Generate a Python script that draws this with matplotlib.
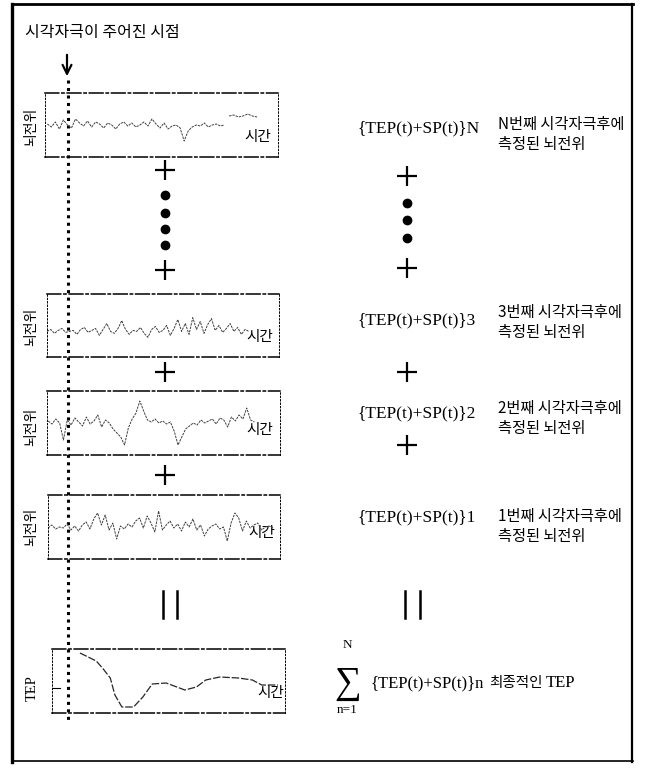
import numpy as np
import matplotlib.pyplot as plt

# 한글 / 수식 글꼴
kor = ['Noto Sans CJK KR', 'DejaVu Sans']
serif = ['Liberation Serif', 'DejaVu Serif']

# 각 자극 후 측정된 뇌전위 (상자 중심 기준 진폭, 임의 단위)
trace_N = [1, -2, 3, -4, 5, 0, -3, 6, 2, -1, 4, -2, 3, 1, -3, 2, 0, -4, 1, 3,
           -1, 2, -2, 0, 3, -1, 6, 1, -3, 2, -4, -1, 0, -3, -16, -6, -2, 0, -1, 2,
           -2, 0, 1, -1, 0]
trace_N_tail = [9, 10, 8, 9, 11, 9, 8]
trace_3 = [-6, -4, -8, -5, -3, -7, -6, -5, -9, -4, -2, -7, -5, -3, -10, -4, 2, -6, -8, -3,
           5, -4, -9, -5, -6, -2, -8, -12, -4, -1, -7, -5, 0, -10, -3, 6, -6, 2, -9, 8,
           -4, 4, -8, 1, 7, -5, 0, -7, -3, 2, -6, -2, -9, -4, -6]
trace_2 = [2, -1, 4, 0, -17, 3, -2, 5, 1, -3, 6, -1, 2, 8, -4, 3, 0, -6, -10, -14,
           -22, -5, 4, 10, 22, 12, 3, 1, 4, 0, 2, -1, 1, -8, -22, -14, -6, -3, 0, -2,
           3, 0, 2, 4, -1, 5, 3, -4, 6, 2, 8, 4, 15, 3, 1]
trace_1 = [-1, 2, -2, 0, -1, 3, -3, 1, -4, 2, 5, -2, 8, 14, 2, 12, -3, 4, -12, 1,
           -2, 3, 0, 6, 9, -1, 11, 4, -5, 16, -3, 2, 6, -1, 3, -4, 5, 0, 8, -3,
           2, -9, -2, 1, 3, -2, 0, -14, 4, 14, 9, -4, 6, -1, 2, 4, -3, 0, 1, -1]
# 최종 TEP (평균)
tep_t = [12, 19, 22, 25, 27, 30, 35, 39, 43, 49, 57, 62, 66, 72, 80, 86, 90, 97]
tep_v = [28, 20, 12, 3, -14, -26, -26, -16, -3, -2, -9, -6, 1, 4, 3, 1, -4, -4]

row_labels = ['N', '3', '2', '1']

fig = plt.figure(figsize=(6.45, 7.69), dpi=100)
ax = fig.add_axes([0, 0, 1, 1])
ax.set_xlim(0, 645)
ax.set_ylim(769, 0)
ax.axis('off')

W, H = 645.0, 769.0


def box_axes(x0, y0, x1, y1):
    b = fig.add_axes([x0 / W, 1 - y1 / H, (x1 - x0) / W, (y1 - y0) / H])
    b.patch.set_alpha(0)
    b.set_xlim(0, 100)
    b.set_ylim(-32, 32)
    b.set_xticks([])
    b.set_yticks([])
    for s in ['top', 'bottom']:
        b.spines[s].set_linestyle((0, (9, 2, 1.5, 2)))
        b.spines[s].set_linewidth(1.1)
    for s in ['left', 'right']:
        b.spines[s].set_linestyle((0, (1.5, 2)))
        b.spines[s].set_linewidth(0.7)
    return b


trace_kw = dict(color='0.25', lw=0.7, ls=(0, (2.5, 1)))

# 상자들
bN = box_axes(45, 93, 278, 157)
bN.plot(np.linspace(1, 77, len(trace_N)), trace_N, **trace_kw)
bN.plot(np.linspace(79, 91, len(trace_N_tail)), trace_N_tail, **trace_kw)

b3 = box_axes(47, 294, 279, 357)
b3.plot(np.linspace(0, 87, len(trace_3)), trace_3, **trace_kw)

b2 = box_axes(47, 391, 280, 455)
b2.plot(np.linspace(0.5, 89, len(trace_2)), trace_2, **trace_kw)

b1 = box_axes(48, 495, 280, 559)
b1.plot(np.linspace(0, 97, len(trace_1)), trace_1, **trace_kw)

bT = box_axes(52, 649, 285, 713)
bT.plot(tep_t, tep_v, color='0.15', lw=0.9, ls=(0, (6, 1.5)))

# 바깥 테두리
ax.plot([12, 12], [4, 762], color='k', lw=2.4)
ax.plot([12, 633], [4, 4], color='k', lw=2.0)
ax.plot([632, 632], [4, 762], color='k', lw=1.6)
ax.plot([12, 633], [761, 761], color='k', lw=1.2)

# 자극 시점
ax.text(25, 33, '시각자극이 주어진 시점', family=kor, fontsize=11.5,
        va='center', ha='left')
ax.annotate('', xy=(67, 79), xytext=(67, 52),
            arrowprops=dict(arrowstyle='->', lw=1.6, color='k',
                            mutation_scale=16))
ax.plot([68, 68], [80, 720], color='k', lw=2.2, ls=(0, (1, 1.45)))

# 왼쪽 라벨
for yc in [127, 327, 427, 527]:
    ax.text(31, yc, '뇌전위', family=kor, fontsize=10, rotation=90,
            ha='center', va='center')
ax.text(32, 688, 'TEP', family=serif, fontsize=10.5, rotation=90,
        ha='center', va='center')
ax.plot([52, 60], [688, 688], color='k', lw=0.8)

for xs, ys in [(258, 137), (260, 337), (260, 430), (262, 533), (271, 693)]:
    ax.text(xs, ys, '시간', family=kor, fontsize=10.5, ha='center', va='center')

# 더하기, 점
plus_kw = dict(marker='+', ms=15, mew=1.6, color='k', ls='none')
dot_kw = dict(marker='o', ms=6, color='k', ls='none')
ax.plot([165, 165, 165, 165], [170, 270, 372, 475], **plus_kw)
ax.plot([165, 165, 165, 165], [195, 213, 229, 245], **dot_kw)
ax.plot([407, 407, 407, 407], [176, 268, 372, 445], **plus_kw)
ax.plot([407, 407, 407], [203, 220, 238], **dot_kw)

# 같음 표시
for xc in [163, 177, 405, 420]:
    ax.plot([xc, xc], [591, 618], color='k', lw=1.8)

# 오른쪽 식과 설명
form_y = [128, 320, 413, 517]
desc_y = [(124, 145), (312, 332), (408, 429), (516, 536)]
for lab, fy, (d1, d2) in zip(row_labels, form_y, desc_y):
    ax.text(357, fy, '{TEP(t)+SP(t)}' + lab, family=serif, fontsize=12.5,
            ha='left', va='center')
    ax.text(498, d1, lab + '번째 시각자극후에', family=kor, fontsize=11,
            ha='left', va='center')
    ax.text(498, d2, '측정된 뇌전위', family=kor, fontsize=11,
            ha='left', va='center')

# 합
ax.text(348, 684, '∑', family=serif, fontsize=27, ha='center', va='center')
ax.text(347, 645, 'N', family=serif, fontsize=9.5, ha='center', va='center')
ax.text(347, 710, 'n=1', family=serif, fontsize=9.5, ha='center', va='center')
ax.text(370, 683, '{TEP(t)+SP(t)}n', family=serif, fontsize=12,
        ha='left', va='center')
ax.text(489, 683, '최종적인', family=kor, fontsize=10.5, ha='left', va='center')
ax.text(546, 683, 'TEP', family=serif, fontsize=12, ha='left', va='center')

fig.savefig('out.png', dpi=100)
